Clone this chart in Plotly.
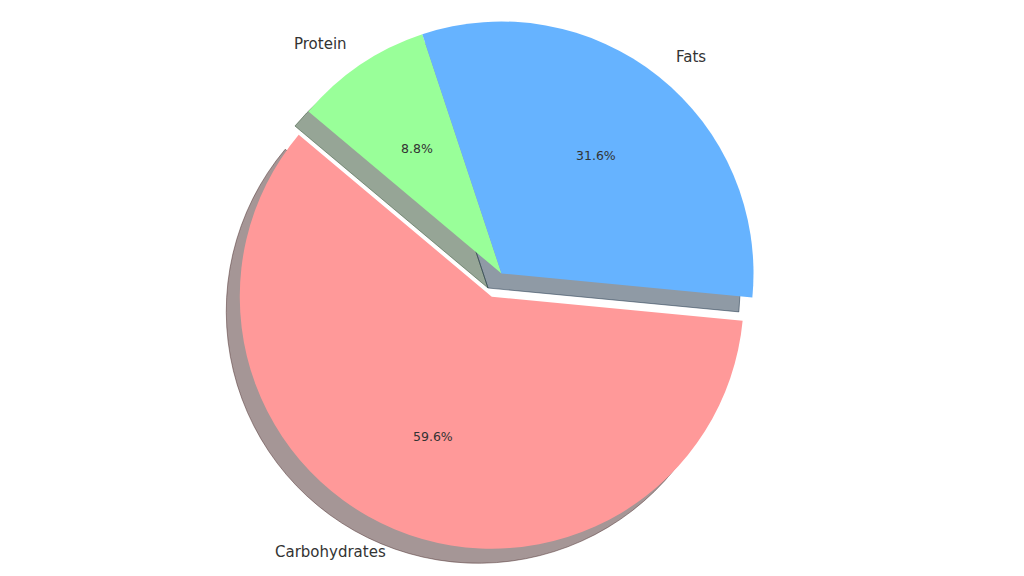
import math
import plotly.graph_objects as go

# ---- data ----
labels = ["Carbohydrates", "Fats", "Protein"]
values = [59.6, 31.6, 8.8]
colors = ["#ff9999", "#66b3ff", "#99ff99"]
explode = [0.1, 0.0, 0.0]

# ---- layout geometry (pixels, screen coordinates) ----
W, H = 1024, 576
PAGE_OFF = 8               # default body margin of the html page
CX, CY = 501.5 - PAGE_OFF, 273.5 - PAGE_OFF   # pie centre in figure coords
R = 252.0                  # pie radius
START = 140.0              # start angle (deg, counterclockwise from 3 o'clock)
SHADOW_DX, SHADOW_DY = -13.5, 14.5


def hex_to_rgb(h):
    h = h.lstrip("#")
    return tuple(int(h[i:i + 2], 16) for i in (0, 2, 4))


def shadow_color(h):
    r, g, b = hex_to_rgb(h)
    return f"rgba({r*0.3:.0f},{g*0.3:.0f},{b*0.3:.0f},0.5)"


total = sum(values)
angles = []
a = START
for v in values:
    span = 360.0 * v / total
    angles.append((a, a + span))
    a += span

centres = []
for (a0, a1), ex in zip(angles, explode):
    mid = math.radians((a0 + a1) / 2)
    centres.append((CX + ex * R * math.cos(mid), CY - ex * R * math.sin(mid)))


def domain(cx, cy, r):
    return dict(x=[(cx - r) / W, (cx + r) / W], y=[1 - (cy + r) / H, 1 - (cy - r) / H])


fig = go.Figure()

order = list(range(len(values)))[::-1]
rotation = 90.0 - START

groups = {}
for i, c in enumerate(centres):
    key = (round(c[0], 3), round(c[1], 3))
    groups.setdefault(key, []).append(i)


def add_pie(cx, cy, members, shadow):
    cols = []
    for i in order:
        if i in members:
            cols.append(shadow_color(colors[i]) if shadow else colors[i])
        else:
            cols.append("rgba(0,0,0,0)")
    line_cols = [c if (c != "rgba(0,0,0,0)" and shadow) else "rgba(0,0,0,0)" for c in cols]
    fig.add_trace(go.Pie(
        labels=[labels[i] for i in order],
        values=[values[i] for i in order],
        sort=False,
        direction="clockwise",
        rotation=rotation,
        marker=dict(colors=cols, line=dict(color=line_cols, width=1 if shadow else 0)),
        textinfo="none",
        hoverinfo="skip",
        showlegend=False,
        domain=domain(cx, cy, R),
    ))


for (cx, cy), members in groups.items():
    add_pie(cx + SHADOW_DX, cy + SHADOW_DY, members, True)
for (cx, cy), members in groups.items():
    add_pie(cx, cy, members, False)

annotations = []
for i, ((a0, a1), (cx, cy)) in enumerate(zip(angles, centres)):
    mid = math.radians((a0 + a1) / 2)
    lx = cx + 1.1 * R * math.cos(mid)
    ly = cy - 1.1 * R * math.sin(mid)
    right_side = math.cos(mid) > 0
    annotations.append(dict(
        x=lx / W, y=1 - ly / H, xref="paper", yref="paper",
        text=labels[i], showarrow=False,
        xanchor="left" if right_side else "right", yanchor="middle",
        xshift=0 if right_side else 3,
        font=dict(family="DejaVu Sans", size=15, color="#333333"),
    ))
    px = cx + 0.6 * R * math.cos(mid)
    py = cy - 0.6 * R * math.sin(mid)
    annotations.append(dict(
        x=px / W, y=1 - py / H, xref="paper", yref="paper",
        text=f"{100 * values[i] / total:.1f}%", showarrow=False,
        xanchor="center", yanchor="middle",
        font=dict(family="DejaVu Sans", size=12.5, color="#333333"),
    ))

fig.update_layout(
    width=W, height=H,
    margin=dict(l=0, r=0, t=0, b=0),
    paper_bgcolor="white", plot_bgcolor="white",
    annotations=annotations,
    showlegend=False,
)

fig.write_html("out.html")
